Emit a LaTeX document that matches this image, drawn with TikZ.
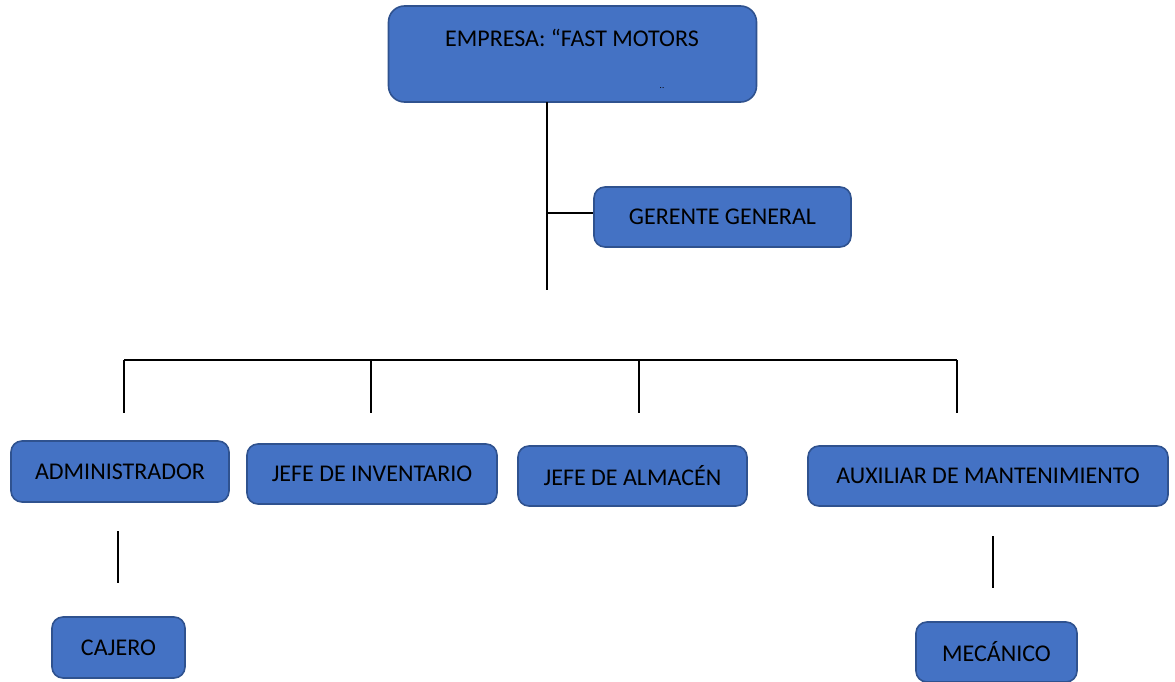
\documentclass[tikz,border=0pt]{standalone}
\usepackage{fontspec}
\setmainfont{Carlito}
\definecolor{boxfill}{HTML}{4472C4}
\definecolor{boxedge}{HTML}{2F528F}
\begin{document}
\begin{tikzpicture}[x=1pt,y=-1pt,
  box/.style={draw=boxedge,line width=1.6pt,fill=boxfill,rounded corners=11pt,
    inner sep=0pt,font=\fontsize{24}{28}\selectfont,text=black},
  link/.style={line width=2.4pt,black}]
\useasboundingbox (0,0) rectangle (1175,682);

% top box with its caption near the upper edge
\node[box,rounded corners=16pt,minimum width=368,minimum height=96] (empresa) at (572.5,54) {};
\node[font=\fontsize{24}{28}\selectfont] (titulo) at (572,38) {EMPRESA: “FAST MOTORS};
\node[font=\fontsize{9}{9}\selectfont] (puntos) at (662,88) {..};

\node[box,minimum width=257,minimum height=60] (gerente) at (722.5,217) {GERENTE GENERAL};

\node[box,minimum width=218,minimum height=61] (admin) at (120,471.5) {ADMINISTRADOR};
\node[box,minimum width=250,minimum height=60] (inventario) at (372,474) {JEFE DE INVENTARIO};
\node[box,minimum width=229,minimum height=60] (almacen) at (632.5,476) {JEFE DE ALMACÉN};
\node[box,minimum width=360,minimum height=60] (auxiliar) at (988,476) {AUXILIAR DE MANTENIMIENTO};

\node[box,minimum width=133,minimum height=61] (cajero) at (118.5,647.5) {CAJERO};
\node[box,minimum width=161,minimum height=60] (mecanico) at (996.5,652) {MECÁNICO};

% free ends of the connectors
\coordinate (troncoA) at (547,102);
\coordinate (troncoB) at (547,290);
\coordinate (ramaG) at (547,213);
\coordinate (busI) at (124,360);
\coordinate (busD) at (957,360);
\coordinate (b1) at (124,360);  \coordinate (b1e) at (124,413);
\coordinate (b2) at (371,360);  \coordinate (b2e) at (371,413);
\coordinate (b3) at (639,360);  \coordinate (b3e) at (639,413);
\coordinate (b4) at (957,360);  \coordinate (b4e) at (957,413);
\coordinate (c1) at (118,531);  \coordinate (c1e) at (118,583);
\coordinate (m1) at (993,536);  \coordinate (m1e) at (993,588);

\draw[link] (troncoA) -- (troncoB);
\draw[link] (ramaG) -- (gerente.west |- ramaG);
\draw[link] (busI) -- (busD);
\draw[link] (b1) -- (b1e);
\draw[link] (b2) -- (b2e);
\draw[link] (b3) -- (b3e);
\draw[link] (b4) -- (b4e);
\draw[link] (c1) -- (c1e);
\draw[link] (m1) -- (m1e);
\end{tikzpicture}
\end{document}
